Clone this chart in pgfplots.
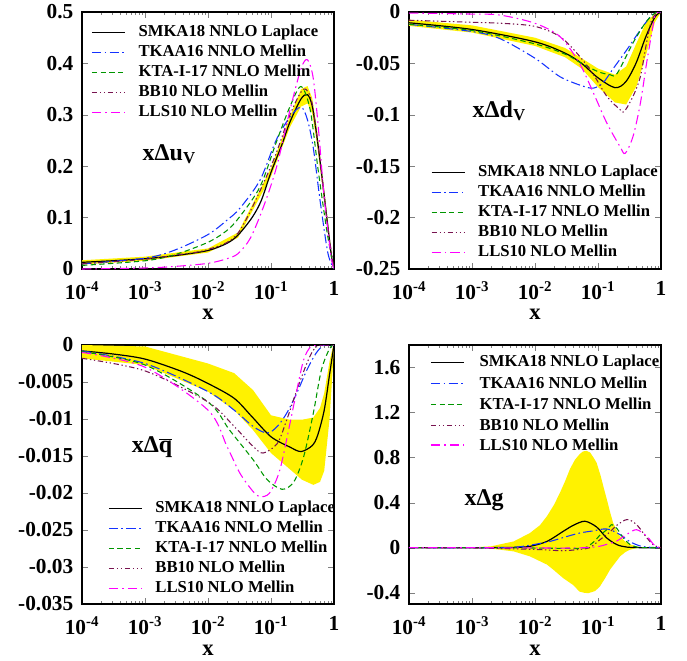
\documentclass[border=0pt]{standalone}
\usepackage{fontspec}
\setmainfont{Liberation Serif}
\usepackage{pgfplots}
\pgfplotsset{compat=1.18}

\definecolor{cblue}{RGB}{20,50,255}
\definecolor{cgreen}{RGB}{0,150,0}
\definecolor{cbrown}{RGB}{120,20,80}
\definecolor{cmag}{RGB}{255,0,255}

\pgfplotsset{
  every axis/.append style={
    scale only axis, width=189pt, anchor=north west,
    xmin=1e-4, xmax=1,
    xtick={1e-4,1e-3,1e-2,1e-1,1},
    xticklabels={10\textsuperscript{-4},10\textsuperscript{-3},10\textsuperscript{-2},10\textsuperscript{-1},1},
    scaled y ticks=false,
    tick align=inside, major tick length=4.5pt, minor tick length=2.5pt,
    axis line style={line width=1pt},
    ticklabel style={font=\fontsize{16}{16}\selectfont\bfseries},
    xticklabel style={yshift=-6pt},
    yticklabel style={xshift=-3pt},
    xlabel={x}, xlabel style={font=\fontsize{17}{17}\selectfont\bfseries, at={(axis description cs:0.5,-0.178)}, anchor=center},
    legend style={draw=none, fill=none, inner sep=0pt, anchor=north west,
      font=\fontsize{12.5}{12.5}\selectfont\bfseries,
      nodes={text height=9pt, text depth=3pt, inner sep=1.5pt}, column sep=8pt},
    legend cell align=left,
  },
  legend image code/.code={\draw[#1] (0pt,0pt) -- (25pt,0pt);},
}
\tikzset{
  smka/.style={color=black, line width=0.9pt},
  tkaa/.style={color=cblue, line width=0.8pt, dash pattern=on 7pt off 2.5pt on 1.2pt off 2.5pt},
  kta/.style={color=cgreen, line width=0.8pt, dash pattern=on 4pt off 2.5pt},
  bb/.style={color=cbrown, line width=0.8pt, dash pattern=on 4pt off 2pt on 1pt off 2pt on 1pt off 2pt},
  lls/.style={color=cmag, line width=0.8pt, dash pattern=on 7pt off 3pt on 1.2pt off 3pt},
  legtext/.style={anchor=west, inner sep=0pt, font=\fontsize{12.5}{12.5}\selectfont\bfseries},
}

\begin{document}
\begin{tikzpicture}
\path[use as bounding box] (0,0) rectangle (515.25pt,-495.75pt);

% ---------- x Delta u_V ----------
\begin{semilogxaxis}[at={(61.5pt,-9pt)}, height=192.75pt,
  ymin=0, ymax=0.5, ytick={0,0.1,0.2,0.3,0.4,0.5},
  yticklabels={0,0.1,0.2,0.3,0.4,0.5},
  legend style={at={(0.036,0.961)}}]
\addplot[fill=yellow, draw=none, forget plot] coordinates {(1e-4,0.017)(1e-3,0.024)(0.01,0.040)(0.03,0.071)(0.1,0.196)(0.2,0.297)(0.3,0.350)(0.38,0.356)(0.45,0.333)(0.53,0.276)(0.72,0.140)(0.93,0.022)(1,0)
 (0.93,0.014)(0.72,0.120)(0.53,0.248)(0.45,0.303)(0.38,0.322)(0.3,0.316)(0.2,0.276)(0.1,0.180)(0.03,0.061)(0.01,0.032)(1e-3,0.016)(1e-4,0.009)} --cycle;
\addplot[smka, smooth] coordinates {(1e-4,0.013)(3e-4,0.016)(1e-3,0.020)(3e-3,0.026)(0.01,0.036)(0.02,0.050)(0.03,0.066)(0.05,0.100)(0.07,0.133)(0.1,0.188)(0.15,0.243)(0.2,0.286)(0.3,0.331)(0.38,0.339)(0.45,0.318)(0.53,0.262)(0.63,0.190)(0.72,0.130)(0.85,0.055)(0.93,0.018)(1,0)};
\addplot[tkaa, smooth] coordinates {(1e-4,0.010)(1e-3,0.021)(3e-3,0.037)(0.01,0.067)(0.02,0.095)(0.032,0.118)(0.067,0.173)(0.12,0.250)(0.2,0.296)(0.3,0.315)(0.38,0.290)(0.47,0.235)(0.6,0.134)(0.8,0.031)(1,0)};
\addplot[kta, smooth] coordinates {(1e-4,0.007)(1e-3,0.016)(3e-3,0.028)(0.01,0.052)(0.02,0.075)(0.032,0.102)(0.067,0.160)(0.12,0.245)(0.2,0.316)(0.3,0.355)(0.42,0.309)(0.56,0.193)(0.78,0.070)(1,0)};
\addplot[bb, smooth] coordinates {(1e-4,0.010)(1e-3,0.019)(3e-3,0.027)(0.01,0.038)(0.03,0.070)(0.1,0.200)(0.2,0.300)(0.33,0.350)(0.45,0.322)(0.6,0.210)(0.8,0.080)(1,0)};
\addplot[lls, smooth] coordinates {(1e-4,0.000)(1e-3,0.002)(3e-3,0.005)(0.01,0.011)(0.02,0.020)(0.03,0.030)(0.047,0.060)(0.076,0.121)(0.123,0.199)(0.2,0.309)(0.3,0.390)(0.38,0.407)(0.47,0.370)(0.575,0.264)(0.69,0.147)(0.89,0.028)(1,0)};
\legend{SMKA18 NNLO Laplace, TKAA16 NNLO Mellin, KTA-I-17 NNLO Mellin, BB10 NLO Mellin, LLS10 NLO Mellin}
\node[anchor=base west, font=\fontsize{18}{18}\selectfont\bfseries] at (rel axis cs:0.222,0.424) {xΔu\textsubscript{V}};
\end{semilogxaxis}

% ---------- x Delta d_V ----------
\begin{semilogxaxis}[at={(306.75pt,-9pt)}, height=192.75pt,
  ymin=-0.25, ymax=0, ytick={-0.25,-0.2,-0.15,-0.1,-0.05,0},
  yticklabels={-0.25,-0.2,-0.15,-0.1,-0.05,0},
  legend style={at={(0.086,0.416)}}]
\addplot[fill=yellow, draw=none, forget plot] coordinates {(1e-4,-0.0075)(1e-3,-0.013)(0.01,-0.025)(0.03,-0.035)(0.055,-0.045)(0.1,-0.055)(0.186,-0.061)(0.28,-0.053)(0.41,-0.030)(0.59,-0.009)(0.8,-0.002)(1,0)
 (0.8,-0.010)(0.59,-0.040)(0.41,-0.072)(0.28,-0.090)(0.186,-0.088)(0.1,-0.073)(0.055,-0.055)(0.03,-0.044)(0.01,-0.033)(1e-3,-0.020)(1e-4,-0.0135)} --cycle;
\addplot[smka, smooth] coordinates {(1e-4,-0.0105)(1e-3,-0.017)(0.01,-0.029)(0.03,-0.040)(0.055,-0.050)(0.1,-0.064)(0.186,-0.0736)(0.275,-0.068)(0.4,-0.050)(0.575,-0.024)(0.8,-0.005)(1,0)};
\addplot[tkaa, smooth] coordinates {(1e-4,-0.012)(1e-3,-0.019)(0.0028,-0.026)(0.01,-0.045)(0.025,-0.063)(0.057,-0.072)(0.085,-0.074)(0.12,-0.069)(0.17,-0.056)(0.285,-0.037)(0.47,-0.0175)(0.68,-0.0046)(0.85,0)(1,0)};
\addplot[kta, smooth] coordinates {(1e-4,-0.012)(1e-3,-0.018)(0.01,-0.031)(0.03,-0.041)(0.055,-0.050)(0.1,-0.058)(0.155,-0.061)(0.2,-0.060)(0.36,-0.030)(0.59,-0.009)(0.85,0)(1,0)};
\addplot[bb, smooth] coordinates {(1e-4,-0.008)(1e-3,-0.010)(3e-3,-0.011)(0.01,-0.014)(0.025,-0.024)(0.051,-0.043)(0.085,-0.061)(0.138,-0.082)(0.224,-0.095)(0.26,-0.097)(0.36,-0.082)(0.47,-0.063)(0.59,-0.030)(0.71,-0.008)(0.9,0)(1,0)};
\addplot[lls, smooth] coordinates {(1e-4,-0.001)(1e-3,-0.002)(0.0028,-0.003)(0.01,-0.011)(0.025,-0.024)(0.051,-0.050)(0.085,-0.079)(0.138,-0.108)(0.224,-0.131)(0.27,-0.1375)(0.36,-0.121)(0.47,-0.089)(0.59,-0.050)(0.71,-0.021)(0.8,-0.004)(0.9,0)(1,0)};
\legend{SMKA18 NNLO Laplace, TKAA16 NNLO Mellin, KTA-I-17 NNLO Mellin, BB10 NLO Mellin, LLS10 NLO Mellin}
\node[anchor=base west, font=\fontsize{18}{18}\selectfont\bfseries] at (rel axis cs:0.234,0.591) {xΔd\textsubscript{V}};
\end{semilogxaxis}

% ---------- x Delta qbar ----------
\begin{semilogxaxis}[at={(61.5pt,-258.75pt)}, height=194.25pt,
  ymin=-0.035, ymax=0, ytick={-0.035,-0.03,-0.025,-0.02,-0.015,-0.01,-0.005,0},
  yticklabels={-0.035,-0.03,-0.025,-0.02,-0.015,-0.01,-0.005,0},
  legend style={at={(0.103,0.409)}}]
\addplot[fill=yellow, draw=none, forget plot] coordinates {(1e-4,0)(1e-3,-0.0002)(0.01,-0.0025)(0.026,-0.0038)(0.052,-0.0061)(0.1,-0.0095)(0.2,-0.0101)(0.31,-0.0101)(0.47,-0.0098)(0.6,-0.0085)(0.7,-0.0065)(0.85,-0.0022)(0.95,-0.0004)(1,0)
 (0.95,-0.0035)(0.85,-0.0100)(0.7,-0.0170)(0.6,-0.0185)(0.47,-0.0189)(0.31,-0.0182)(0.2,-0.0168)(0.1,-0.0146)(0.052,-0.0115)(0.026,-0.0088)(0.01,-0.0063)(1e-3,-0.0027)(1e-4,-0.0018)} --cycle;
\addplot[smka, smooth] coordinates {(1e-4,-0.0008)(3e-4,-0.0012)(1e-3,-0.0019)(0.0039,-0.0036)(0.01,-0.0052)(0.026,-0.0072)(0.05,-0.0097)(0.1,-0.0124)(0.2,-0.0138)(0.3,-0.0144)(0.45,-0.0136)(0.55,-0.0122)(0.7,-0.0088)(0.85,-0.0040)(1,0)};
\addplot[tkaa, smooth] coordinates {(1e-4,-0.0008)(1e-3,-0.0025)(0.01,-0.0063)(0.026,-0.0088)(0.052,-0.011)(0.087,-0.0119)(0.126,-0.011)(0.178,-0.0092)(0.257,-0.0065)(0.37,-0.0034)(0.52,-0.0011)(0.7,0)(1,0)};
\addplot[kta, smooth] coordinates {(1e-4,-0.0009)(1e-3,-0.0027)(0.01,-0.0077)(0.022,-0.0115)(0.052,-0.0155)(0.087,-0.0182)(0.15,-0.0195)(0.23,-0.0185)(0.33,-0.0151)(0.47,-0.0092)(0.63,-0.0034)(0.85,-0.0005)(1,0)};
\addplot[bb, smooth] coordinates {(1e-4,-0.0018)(1e-3,-0.0035)(0.01,-0.0077)(0.026,-0.011)(0.052,-0.0137)(0.075,-0.0146)(0.126,-0.0133)(0.178,-0.0101)(0.257,-0.0061)(0.37,-0.0025)(0.47,-0.0007)(0.6,0)(1,0)};
\addplot[lls, smooth] coordinates {(1e-4,-0.0010)(1e-3,-0.0030)(0.01,-0.0088)(0.02,-0.0137)(0.032,-0.0173)(0.052,-0.0198)(0.067,-0.0205)(0.095,-0.0200)(0.138,-0.0169)(0.2,-0.0106)(0.257,-0.0061)(0.33,-0.002)(0.42,-0.0003)(0.55,0)(1,0)};
\legend{SMKA18 NNLO Laplace, TKAA16 NNLO Mellin, KTA-I-17 NNLO Mellin, BB10 NLO Mellin, LLS10 NLO Mellin}
\node[anchor=base west, font=\fontsize{18}{18}\selectfont\bfseries] at (rel axis cs:0.179,0.584) {xΔ\ensuremath{\overline{\hbox{q}}}};
\end{semilogxaxis}

% ---------- x Delta g ----------
\begin{semilogxaxis}[at={(306.75pt,-258.75pt)}, height=194.25pt,
  ymin=-0.5, ymax=1.8, ytick={-0.4,0,0.4,0.8,1.2,1.6},
  yticklabels={-0.4,0,0.4,0.8,1.2,1.6}]
\addplot[fill=yellow, draw=none, forget plot] coordinates {(1e-4,0)(5e-4,0.001)(1e-3,0.003)(0.002,0.012)(0.0046,0.056)(0.0083,0.13)(0.012,0.20)(0.0155,0.28)(0.02,0.38)(0.025,0.49)(0.03,0.59)(0.036,0.70)(0.043,0.78)(0.051,0.83)(0.058,0.855)(0.066,0.86)(0.075,0.845)(0.085,0.80)(0.095,0.755)(0.11,0.64)(0.125,0.52)(0.138,0.43)(0.155,0.32)(0.174,0.22)(0.2,0.15)(0.224,0.10)(0.27,0.055)(0.32,0.03)(0.4,0.012)(0.47,0.005)(0.7,0)
 (0.47,0)(0.4,-0.006)(0.32,-0.018)(0.27,-0.040)(0.224,-0.077)(0.19,-0.13)(0.155,-0.196)(0.13,-0.27)(0.107,-0.345)(0.09,-0.385)(0.07,-0.404)(0.06,-0.40)(0.051,-0.39)(0.04,-0.33)(0.028,-0.27)(0.02,-0.20)(0.0155,-0.15)(0.0083,-0.077)(0.0046,-0.033)(0.002,-0.008)(1e-3,-0.002)(1e-4,0)} --cycle;
\addplot[smka, smooth] coordinates {(1e-4,0)(1e-3,0)(0.0046,0.003)(0.0083,0.012)(0.0155,0.056)(0.028,0.145)(0.041,0.20)(0.062,0.235)(0.095,0.184)(0.138,0.086)(0.2,0.027)(0.29,0.005)(0.5,0)(1,0)};
\addplot[tkaa, smooth] coordinates {(1e-4,0)(1e-3,0)(0.0046,0.003)(0.0155,0.05)(0.028,0.09)(0.051,0.13)(0.085,0.15)(0.122,0.166)(0.155,0.16)(0.224,0.116)(0.32,0.054)(0.47,0.015)(0.68,0.003)(1,0)};
\addplot[kta, smooth] coordinates {(1e-4,0)(1e-3,0)(0.01,-0.003)(0.03,-0.006)(0.06,-0.003)(0.085,0.05)(0.107,0.11)(0.138,0.16)(0.166,0.205)(0.2,0.17)(0.25,0.09)(0.32,0.03)(0.42,0.005)(0.6,0)(1,0)};
\addplot[bb, smooth] coordinates {(1e-4,0)(1e-3,-0.002)(0.0083,-0.014)(0.0155,-0.02)(0.028,-0.027)(0.051,-0.015)(0.074,0.0)(0.107,0.07)(0.155,0.14)(0.2,0.2)(0.29,0.25)(0.41,0.205)(0.6,0.086)(0.76,0.024)(1,0)};
\addplot[lls, smooth] coordinates {(1e-4,0)(1e-3,0)(0.01,-0.002)(0.03,-0.003)(0.06,0.0)(0.1,0.01)(0.138,0.03)(0.2,0.06)(0.29,0.12)(0.41,0.16)(0.6,0.10)(0.76,0.03)(0.9,0.005)(1,0)};
% key drawn by hand in this panel
\draw[smka] (rel axis cs:0.087,0.931) -- (rel axis cs:0.218,0.931);
\draw[tkaa] (rel axis cs:0.087,0.853) -- (rel axis cs:0.218,0.853);
\draw[kta]  (rel axis cs:0.087,0.772) -- (rel axis cs:0.218,0.772);
\draw[bb]   (rel axis cs:0.087,0.691) -- (rel axis cs:0.218,0.691);
\draw[lls]  (rel axis cs:0.087,0.614) -- (rel axis cs:0.218,0.614);
\node[legtext] at (rel axis cs:0.279,0.931) {SMKA18 NNLO Laplace};
\node[legtext] at (rel axis cs:0.279,0.853) {TKAA16 NNLO Mellin};
\node[legtext] at (rel axis cs:0.279,0.772) {KTA-I-17 NNLO Mellin};
\node[legtext] at (rel axis cs:0.279,0.691) {BB10 NLO Mellin};
\node[legtext] at (rel axis cs:0.279,0.614) {LLS10 NLO Mellin};
\node[anchor=base west, font=\fontsize{18}{18}\selectfont\bfseries] at (rel axis cs:0.202,0.382) {xΔg};
\end{semilogxaxis}
\end{tikzpicture}
\end{document}
